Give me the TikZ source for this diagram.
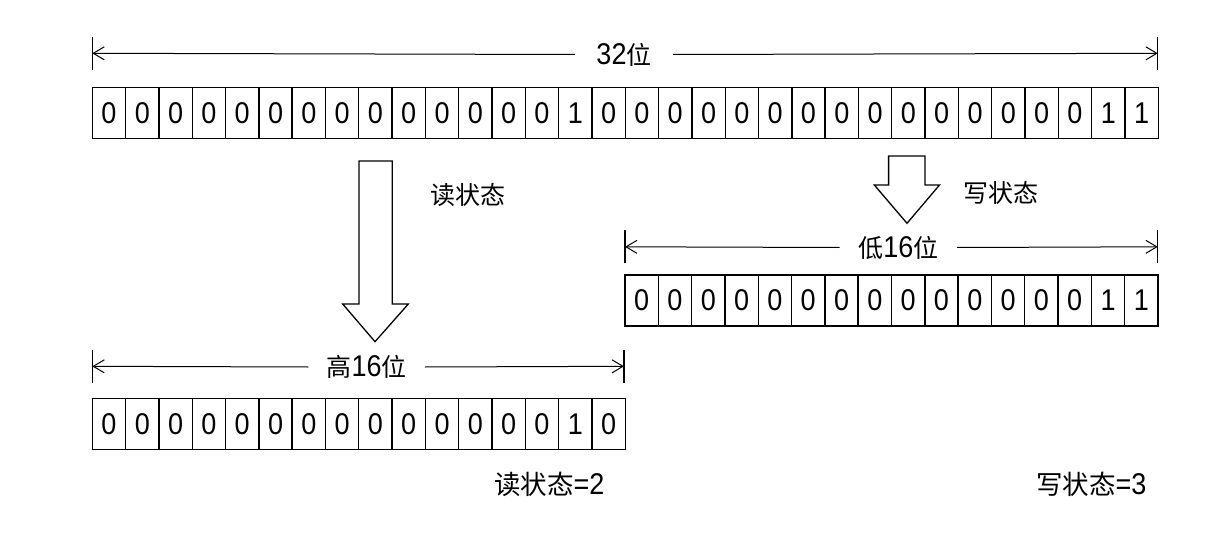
\documentclass[tikz,border=0pt]{standalone}
\usepackage{fontspec}
\setmainfont{Liberation Sans}
\newfontfamily\cjkfam{Noto Sans CJK SC}
\newfontfamily\digfam[FakeStretch=0.9]{Liberation Sans}
\usetikzlibrary{arrows.meta}
\newcommand\digf{\digfam\fontsize{30}{32}\selectfont}
\newcommand\hanf{\cjkfam\fontsize{25}{28}\selectfont}
\newcommand\hanbf{\cjkfam\fontsize{26.5}{28}\selectfont}
\begin{document}
\begin{tikzpicture}[x=1pt,y=-1pt,
  cell/.style={draw, line width=1.4pt, minimum width=33.31pt, minimum height=51pt,
    inner sep=0pt, outer sep=0pt, anchor=north west, font=\digf},
  dimline/.style={line width=1pt, -{Straight Barb[length=11pt,width=13pt,line width=1pt]}},
  tickline/.style={line width=1.3pt},
  dimlabel/.style={fill=white, inner sep=0pt, minimum height=30pt},
  blockarrow/.style={draw, line width=1.3pt, fill=white, line join=miter},
  lbl/.style={inner sep=0pt}]
\path[use as bounding box, fill=white] (0,0) rectangle (1228,540);

% rows of bits
\foreach \b [count=\i from 0] in {0,0,0,0,0,0,0,0,0,0,0,0,0,0,1,0,0,0,0,0,0,0,0,0,0,0,0,0,0,0,1,1}
  \node[cell] (t\i) at ({92.3+\i*33.31},87.3) {\b};
\foreach \b [count=\i from 0] in {0,0,0,0,0,0,0,0,0,0,0,0,0,0,1,1}
  \node[cell] (lo\i) at ({625+\i*33.31},274.8) {\b};
\foreach \b [count=\i from 0] in {0,0,0,0,0,0,0,0,0,0,0,0,0,0,1,0}
  \node[cell] (hi\i) at ({92.3+\i*33.31},398.3) {\b};

% 32 bit dimension
\coordinate (tL) at (92.3,53.3);
\coordinate (tR) at (1157.8,53.3);
\node[dimlabel, minimum width=98pt] (t32) at (624,54.5) {\digf 32\hanf 位};
\draw[dimline] (t32.west) -- (tL);
\draw[dimline] (t32.east) -- (tR);
\draw[tickline] ([yshift=-16.5pt]tL) -- ([yshift=16.5pt]tL);
\draw[tickline] ([yshift=-16.5pt]tR) -- ([yshift=16.5pt]tR);

% low 16 dimension
\coordinate (lL) at (625,246.8);
\coordinate (lR) at (1157.8,246.8);
\node[dimlabel, minimum width=117pt] (l16) at (898.3,247.5) {\hanf 低\digf 16\hanf 位};
\draw[dimline] (l16.west) -- (lL);
\draw[dimline] (l16.east) -- (lR);
\draw[tickline] ([yshift=-16.5pt]lL) -- ([yshift=16.5pt]lL);
\draw[tickline] ([yshift=-16.5pt]lR) -- ([yshift=16.5pt]lR);

% high 16 dimension
\coordinate (hL) at (92.3,366.3);
\coordinate (hR) at (624,366.3);
\node[dimlabel, minimum width=116pt] (h16) at (366.6,367) {\hanf 高\digf 16\hanf 位};
\draw[dimline] (h16.west) -- (hL);
\draw[dimline] (h16.east) -- (hR);
\draw[tickline] ([yshift=-16.5pt]hL) -- ([yshift=16.5pt]hL);
\draw[tickline] ([yshift=-16.5pt]hR) -- ([yshift=16.5pt]hR);

% block arrows
\draw[blockarrow] (359,161) -- (392.3,161) -- (392.3,304) -- (408.3,304) -- (375,341.7)
  -- (342.7,304) -- (359,304) -- cycle;
\draw[blockarrow] (888.6,156) -- (925,156) -- (925,185) -- (939.5,185) -- (907,223.3)
  -- (874.3,185) -- (888.6,185) -- cycle;

% labels
\node[lbl] (rdlab) at (467.5,195) {\hanf 读状态};
\node[lbl] (wrlab) at (1000.5,193) {\hanf 写状态};
\node[lbl, anchor=west] (rdval) at (494,484) {\hanbf 读状态\digf =2};
\node[lbl, anchor=west] (wrval) at (1036,484) {\hanbf 写状态\digf =3};
\end{tikzpicture}
\end{document}
